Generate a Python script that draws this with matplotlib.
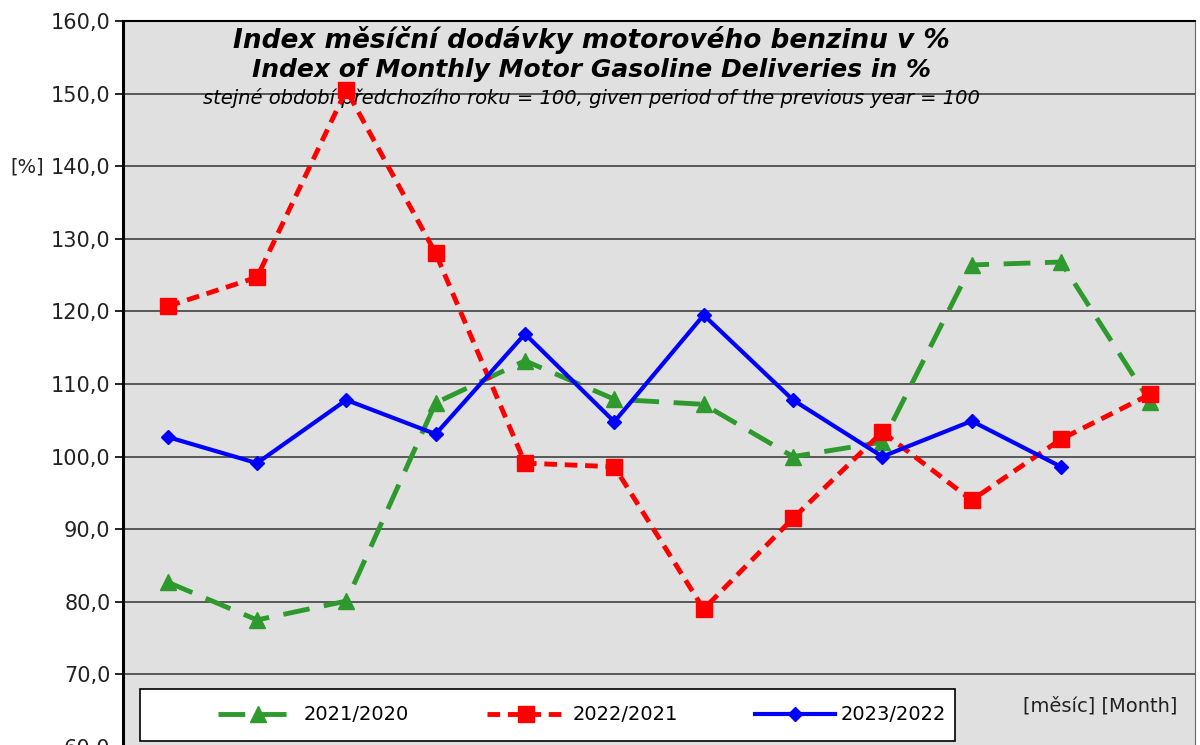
import matplotlib
matplotlib.use("Agg")
import matplotlib.pyplot as plt
from matplotlib.patches import Rectangle

# Monthly index values (same period of previous year = 100)
months = list(range(1, 13))
idx_2021_2020 = [82.7, 77.5, 80.1, 107.4, 113.2, 107.9, 107.2, 100.0, 102.0, 126.4, 126.8, 107.5]
idx_2022_2021 = [120.7, 124.7, 150.5, 128.0, 99.1, 98.6, 79.0, 91.5, 103.4, 94.0, 102.4, 108.6]
idx_2023_2022 = [102.7, 99.1, 107.8, 103.1, 116.9, 104.8, 119.5, 107.8, 100.0, 104.9, 98.6]
y_ticks = [60, 70, 80, 90, 100, 110, 120, 130, 140, 150, 160]


def main():
    plt.rcParams["font.family"] = ["DejaVu Sans"]
    fig = plt.figure(figsize=(12, 7.45), dpi=100)
    fig.patch.set_facecolor("white")
    ax = fig.add_axes([123 / 1200, -2 / 745, 1072 / 1200, 726 / 745])
    ax.set_facecolor("#e0e0e0")

    ax.plot(months, idx_2021_2020, color="#2e9a2e", lw=3.5, dashes=(5.5, 3),
            marker="^", ms=12, label="2021/2020", zorder=3)
    ax.plot(months, idx_2022_2021, color="#ff0000", lw=3.5, dashes=(2.6, 1.6),
            marker="s", ms=11, label="2022/2021", zorder=4)
    ax.plot(months[:len(idx_2023_2022)], idx_2023_2022, color="#0000ff", lw=3,
            marker="D", ms=7, label="2023/2022", zorder=5)

    ax.set_xlim(0.5, 12.5)
    ax.set_ylim(60, 160)
    ax.set_xticks([])
    ax.set_yticks(y_ticks)
    ax.set_yticklabels([f"{v:.1f}".replace(".", ",") for v in y_ticks], fontsize=15, color="#222222")
    ax.tick_params(axis="y", length=6, width=1.2, pad=3)
    ax.yaxis.grid(True, color="#333333", lw=1.1)
    ax.set_axisbelow(True)
    ax.spines["left"].set_linewidth(2.2)
    ax.spines["left"].set_color("black")
    ax.spines["top"].set_linewidth(1.5)
    ax.spines["right"].set_color("#666666")
    ax.spines["bottom"].set_visible(False)

    ax.text(0.4366, 0.974, "Index měsíční dodávky motorového benzinu v %", transform=ax.transAxes,
            ha="center", va="center", fontsize=19, fontweight="bold", style="italic")
    ax.text(0.4366, 0.9325, "Index of Monthly Motor Gasoline Deliveries in %", transform=ax.transAxes,
            ha="center", va="center", fontsize=18, fontweight="bold", style="italic")
    ax.text(0.4366, 0.894, "stejné období předchozího roku = 100, given period of the previous year = 100",
            transform=ax.transAxes, ha="center", va="center", fontsize=14, style="italic")

    fig.text(10 / 1200, 1 - 167 / 745, "[%]", ha="left", va="center", fontsize=14, color="#222222")
    ax.text(0.912, 0.0565, "[měsíc] [Month]", transform=ax.transAxes,
            ha="center", va="center", fontsize=14, color="#222222")

    # legend box drawn by hand, entries placed inside it
    ax.add_patch(Rectangle((17 / 1072, 6 / 726), 815 / 1072, 52 / 726, transform=ax.transAxes,
                           facecolor="white", edgecolor="black", lw=1.2, zorder=6))
    leg = ax.legend(loc="center left", ncol=3, bbox_to_anchor=(95 / 1072, 32 / 726),
                    fontsize=14, handlelength=4.1, handletextpad=0.3, columnspacing=4.0,
                    frameon=False, borderaxespad=0, borderpad=0)
    leg.set_zorder(7)

    fig.savefig("out.png", dpi=100)


if __name__ == "__main__":
    main()
